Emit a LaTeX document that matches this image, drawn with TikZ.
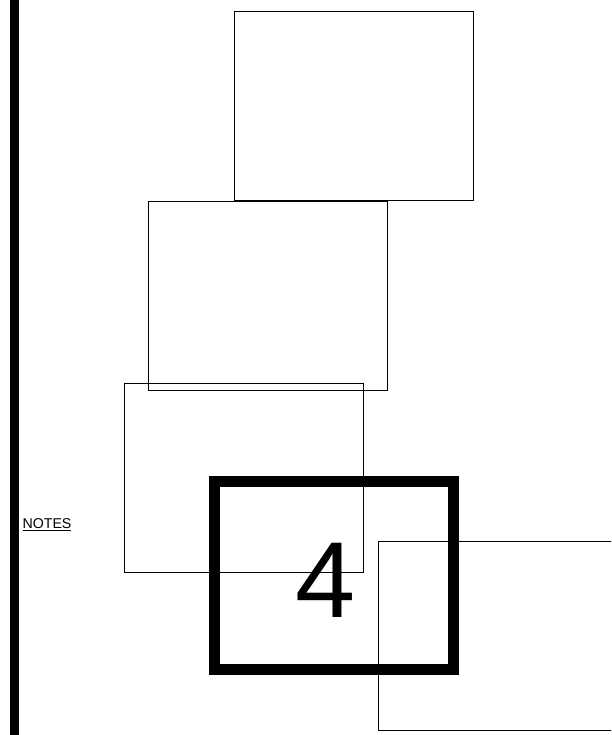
\documentclass[tikz,border=0pt]{standalone}
\usepackage{fontspec}
\setmainfont{Liberation Sans}
\usetikzlibrary{positioning}

\tikzset{
  sheet/.style={draw, thin, line width=0.8pt, inner sep=0pt},
  frame4/.style={draw, line width=11pt, inner sep=0pt}
}

\begin{document}
\begin{tikzpicture}[x=1pt,y=-1pt]
        \useasboundingbox (0,0) rectangle (611,735);
        \clip (0,0) rectangle (611,735);
        \draw[line width=9pt] (14.5,0) -- (14.5,735); % left border
        \node[anchor=west, font=\fontsize{14.2}{15}\selectfont] (notes) at (19,525) {\underline{NOTES}};
        % the sheets
        \draw[sheet] (234,11) rectangle (473,200);
        \draw[sheet] (148,201) rectangle (387,390);
        \draw[sheet] (124,383) rectangle (363,572);
        \draw[sheet] (378,541) rectangle (617,730);
        \node[frame4, minimum width=239pt, minimum height=188pt] (sheet4) at (334,575.5) {};
        \node[font=\fontsize{108}{110}\selectfont] (num) at (326,580) {4};
\end{tikzpicture}
\end{document}
